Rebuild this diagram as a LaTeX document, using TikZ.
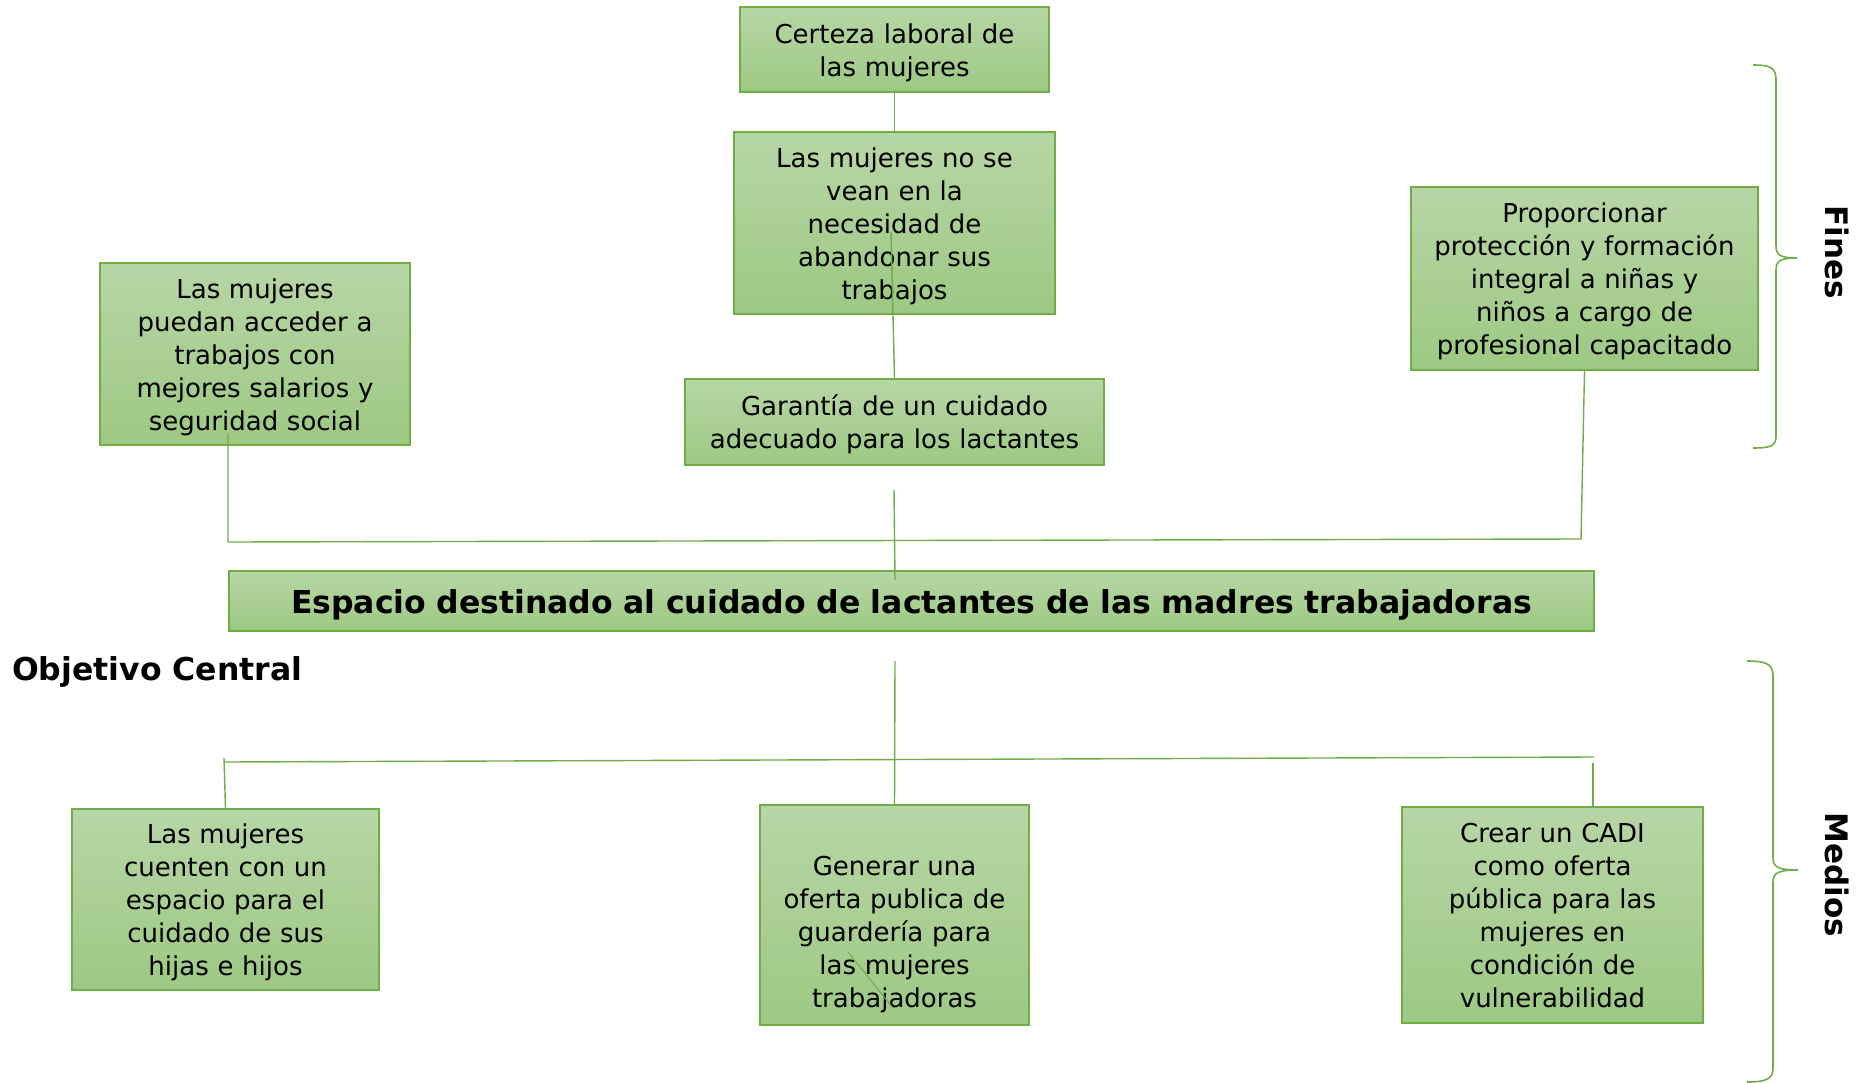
\documentclass[tikz,border=0pt]{standalone}
\usepackage{fontspec}
\setmainfont{DejaVu Sans}
\definecolor{cajaarriba}{RGB}{183,214,166}
\definecolor{cajaabajo}{RGB}{157,201,131}
\definecolor{verde}{RGB}{112,173,71}

\begin{document}
\begin{tikzpicture}[x=1pt, y=-1pt,
		caja/.style={draw=verde, line width=1.6pt, top color=cajaarriba, bottom color=cajaabajo, align=center, inner sep=0pt,
			minimum width=#1, text width=#1, font=\fontsize{26}{33}\selectfont,
			execute at begin node={\rule{0pt}{1em}}, execute at end node={\rule[-0.22em]{0pt}{0.22em}}},
		linea/.style={draw=verde, line width=1.4pt},
		llave/.style={draw=verde, line width=1.6pt},
		rotulo/.style={font=\fontsize{31}{36}\selectfont\bfseries, rotate=-90}]
			\useasboundingbox[fill=white] (0,0) rectangle (1865,1083);
			% fines
			\node[caja=309pt, minimum height=85pt](f1) at (894.5,49.5){Certeza laboral de\\las mujeres};
			\node[caja=321pt, minimum height=182pt](f2) at (894.5,223){Las mujeres no se\\vean en la\\necesidad de\\abandonar sus\\trabajos};
			\node[caja=419pt, minimum height=86pt](f3) at (894.5,422){Garantía de un cuidado\\adecuado para los lactantes};
			\node[caja=310pt, minimum height=182pt](f4) at (255,354){Las mujeres\\puedan acceder a\\trabajos con\\mejores salarios y\\seguridad social};
			\node[caja=347pt, minimum height=183pt](f5) at (1584.5,278.5){Proporcionar\\protección y formación\\integral a niñas y\\niños a cargo de\\profesional capacitado};
			% objetivo
			\node[caja=1365pt, minimum height=60pt, font=\fontsize{31.5}{36}\selectfont\bfseries](o) at (911.5,601){Espacio destinado al cuidado de lactantes de las madres trabajadoras};
			\node[anchor=west, inner sep=0pt, font=\fontsize{31.5}{36}\selectfont\bfseries](ot) at (12,672){Objetivo Central};
			% medios
			\node[caja=307pt, minimum height=181pt](m1) at (225.5,899.5){Las mujeres\\cuenten con un\\espacio para el\\cuidado de sus\\hijas e hijos};
			\node[caja=269pt, minimum height=220pt](m2) at (894.5,915){\mbox{}\\Generar una\\oferta publica de\\guardería para\\las mujeres\\trabajadoras};
			\node[caja=301pt, minimum height=216pt](m3) at (1552.5,915){Crear un CADI\\como oferta\\pública para las\\mujeres en\\condición de\\vulnerabilidad};
			% conectores de arriba
			\coordinate (c1) at (891,232);
			\coordinate (c2) at (228,433);
			\coordinate (c3) at (228,542);
			\coordinate (c4) at (1581,539);
			\coordinate (c5) at (894,490);
			\coordinate (c6) at (895,580);
			\draw[linea] (f1.south) -- (f2.north);
			\draw[linea] (c1) -- (f3.north);
			\draw[linea] (c2) -- (c3) -- (c4) -- (f5.south);
			\draw[linea] (c5) -- (c6);
			% conectores de abajo
			\coordinate (d1) at (895,661);
			\coordinate (d2) at (224,762);
			\coordinate (d3) at (1594,757);
			\coordinate (d4) at (224,758);
			\coordinate (d5) at (1593,763);
			\coordinate (d6) at (1593,807);
			\coordinate (d7) at (848,952);
			\coordinate (d8) at (893,1008);
			\draw[linea] (d1) -- (m2.north);
			\draw[linea] (d2) -- (d3);
			\draw[linea] (d4) -- (m1.north);
			\draw[linea] (d5) -- (d6);
			\draw[linea, line width=1pt] (d7) -- (d8);
			% llaves
			\draw[llave] (1753,65) .. controls (1771,65) and (1776,68) .. (1776,80) -- (1776,246) .. controls (1776,255) and (1780,258) .. (1797,258) .. controls (1780,258) and (1776,261) .. (1776,270) -- (1776,436) .. controls (1776,446) and (1771,448) .. (1753,448);
			\draw[llave] (1747,661) .. controls (1766,661) and (1773,664) .. (1773,676) -- (1773,858) .. controls (1773,867) and (1778,870) .. (1798,870) .. controls (1778,870) and (1773,873) .. (1773,882) -- (1773,1068) .. controls (1773,1079) and (1766,1082) .. (1747,1082);
			\node[rotulo](fines) at (1837,252){Fines};
			\node[rotulo](medios) at (1837,875){Medios};
			\end{tikzpicture}
\end{document}
